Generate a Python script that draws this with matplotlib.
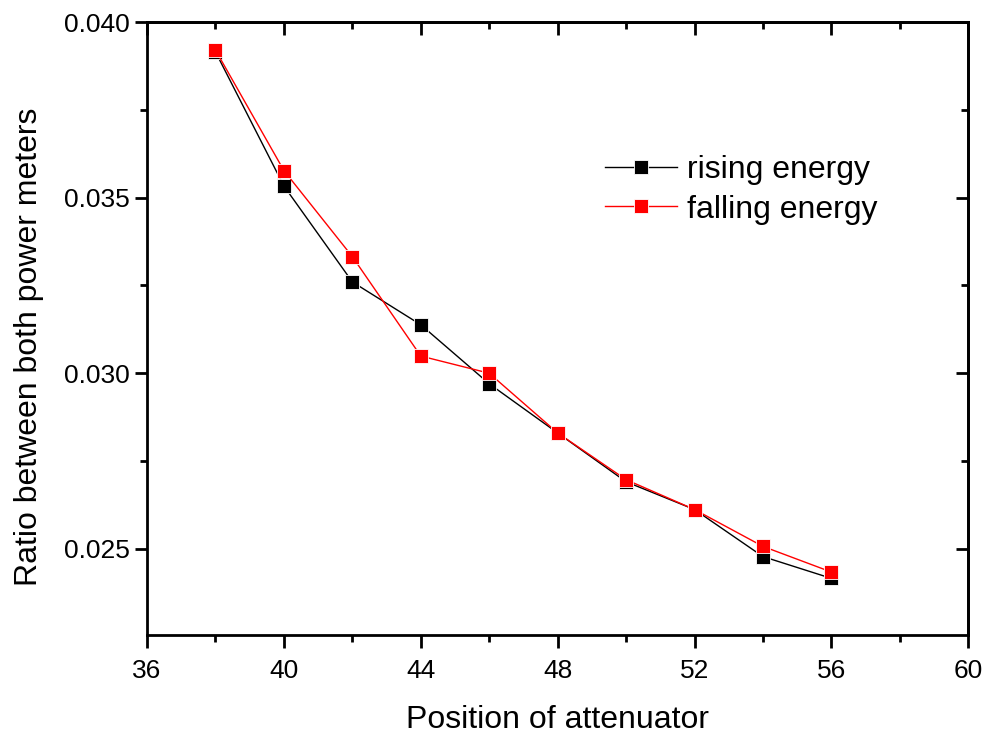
import matplotlib
matplotlib.use('Agg')
import matplotlib.pyplot as plt
from matplotlib.ticker import MultipleLocator

plt.rcParams['font.family'] = ['Liberation Sans', 'DejaVu Sans']

# attenuator positions and measured ratios
position = [38, 40, 42, 44, 46, 48, 50, 52, 54, 56]
rising = [0.03915, 0.03533, 0.03260, 0.03138, 0.02970, 0.02830,
          0.02691, 0.02612, 0.02478, 0.02416]
falling = [0.03920, 0.03577, 0.03332, 0.03049, 0.03000, 0.02830,
           0.02697, 0.02612, 0.02507, 0.02434]

fig = plt.figure(figsize=(9.87, 7.34), dpi=100)
ax = fig.add_axes([0.149, 0.135, 0.832, 0.835])

ax.plot(position, rising, color='black', lw=1, marker='s', ms=10,
        mfc='black', mec='white', mew=0.6, label='rising energy')
ax.plot(position, falling, color='red', lw=1, marker='s', ms=10,
        mfc='red', mec='white', mew=0.6, label='falling energy')

ax.set_xlim(36, 60)
ax.set_ylim(0.02255, 0.040)
ax.xaxis.set_major_locator(MultipleLocator(4))
ax.xaxis.set_minor_locator(MultipleLocator(2))
ax.yaxis.set_major_locator(MultipleLocator(0.005))
ax.yaxis.set_minor_locator(MultipleLocator(0.0025))
ax.yaxis.set_major_formatter(matplotlib.ticker.FormatStrFormatter('%.3f'))

ax.tick_params(which='both', direction='out', width=2, labelsize=19,
               top=False, right=False)
ax.tick_params(axis='x', which='major', pad=8)
ax.tick_params(which='major', length=9)
ax.tick_params(which='minor', length=5)

# inward ticks on the top and right edges
axt = ax.secondary_xaxis('top')
axt.xaxis.set_major_locator(MultipleLocator(4))
axt.xaxis.set_minor_locator(MultipleLocator(2))
axt.tick_params(which='both', direction='in', width=2, labeltop=False)
axt.tick_params(which='major', length=9)
axt.tick_params(which='minor', length=5)
axt.spines['top'].set_linewidth(2)
axr = ax.secondary_yaxis('right')
axr.yaxis.set_major_locator(MultipleLocator(0.005))
axr.yaxis.set_minor_locator(MultipleLocator(0.0025))
axr.tick_params(which='both', direction='in', width=2, labelright=False)
axr.tick_params(which='major', length=9)
axr.tick_params(which='minor', length=5)
axr.spines['right'].set_linewidth(2)

for sp in ax.spines.values():
    sp.set_linewidth(2)

ax.set_xlabel('Position of attenuator', fontsize=23, labelpad=16)
ax.set_ylabel('Ratio between both power meters', fontsize=23, labelpad=14)
ax.yaxis.label.set_y(0.47)

ax.legend(loc='upper left', bbox_to_anchor=(0.523, 0.83), frameon=False,
          fontsize=23, handlelength=2.25, handletextpad=0.3,
          labelspacing=0.3)

fig.savefig('out.png', dpi=100)
